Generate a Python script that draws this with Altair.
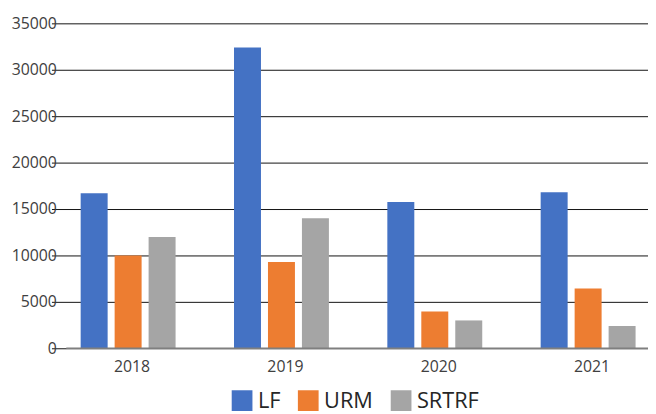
import altair as alt
import pandas as pd

years = ["2018", "2019", "2020", "2021"]
series = ["LF", "URM", "SRTRF"]
lf = [16700, 32400, 15750, 16800]
urm = [10000, 9300, 3950, 6450]
srtrf = [12000, 14000, 3000, 2400]
colors = ["#4472C4", "#ED7D31", "#A5A5A5"]

rows = []
for name, vals in zip(series, [lf, urm, srtrf]):
    for y, v in zip(years, vals):
        rows.append({"Year": y, "Series": name, "Value": v})
df = pd.DataFrame(rows)

FONT = "Open Sans"

bars = alt.Chart(df).mark_bar().encode(
    x=alt.X("Year:N", sort=years, title=None,
            scale=alt.Scale(paddingInner=0, paddingOuter=0, range=[-15, 606]),
            axis=alt.Axis(labelAngle=0, ticks=False, domain=False, labelOffset=4,
                          labelFontSize=16, labelColor="#404040", labelFont=FONT, labelPadding=11)),
    xOffset=alt.XOffset("Series:N", sort=series,
                        scale=alt.Scale(paddingInner=0.206, paddingOuter=0.86)),
    y=alt.Y("Value:Q", title=None,
            scale=alt.Scale(domain=[0, 35000], nice=False),
            axis=alt.Axis(values=list(range(0, 35001, 5000)), format="d", ticks=False, domain=False,
                          grid=True, gridColor="#111111", gridWidth=1,
                          labelFontSize=16, labelColor="#404040", labelFont=FONT, labelPadding=10)),
    color=alt.Color("Series:N", sort=series,
                    scale=alt.Scale(domain=series, range=colors),
                    legend=alt.Legend(title=None, orient="none", direction="horizontal",
                                      legendX=167, legendY=371, symbolType="square",
                                      symbolSize=441, symbolStrokeWidth=0,
                                      labelFontSize=22, labelFont=FONT, labelColor="#262626",
                                      columnPadding=17, labelOffset=5, padding=0)),
)

baseline = alt.Chart(pd.DataFrame({"v": [0]})).mark_rule(color="#7f7f7f", strokeWidth=1.5).encode(
    y=alt.Y("v:Q"),
    x=alt.value(0),
    x2=alt.value(589),
)

chart = alt.layer(bars, baseline).properties(
    width=589, height=329,
    padding={"left": 59, "top": 13, "right": 0, "bottom": 64},
    autosize=alt.AutoSizeParams(type="none"),
).configure_view(stroke=None)

chart.save("out.html", embed_options={"renderer": "svg", "actions": False})
